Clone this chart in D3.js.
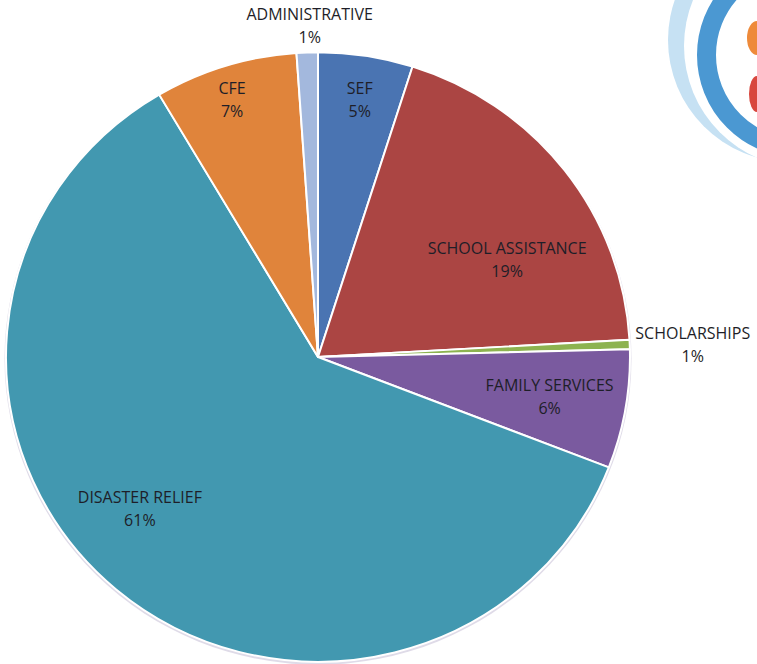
<!DOCTYPE html>
<html><head><meta charset="utf-8">
<script src="https://cdn.jsdelivr.net/npm/d3@7"></script>
<style>html,body{margin:0;padding:0;background:#fff;}svg{display:block;}</style>
</head><body>
<svg id="chart" width="757" height="664"></svg>
<script>
// ---- data ----
const categories = ["SEF", "SCHOOL ASSISTANCE", "SCHOLARSHIPS", "FAMILY SERVICES", "DISASTER RELIEF", "CFE", "ADMINISTRATIVE"];
const values = [4.9, 19.2, 0.5, 6.3, 60.6, 7.4, 1.1];
const colors = ["#4a74b2", "#ab4543", "#8db350", "#7a5a9f", "#4298b0", "#e0843b", "#a3b8dd"];

// ---- drawing ----
const svg = d3.select("#chart");
const cx = 318, cy = 357, R = 312, yScale = 0.977;

// decorative logo (top-right)
const logo = svg.append("g");
logo.append("circle").attr("cx", 790).attr("cy", 40).attr("r", 122).attr("fill", "#c6e1f3");
logo.append("circle").attr("cx", 806).attr("cy", 46).attr("r", 122).attr("fill", "#fff");
logo.append("circle").attr("cx", 800).attr("cy", 55).attr("r", 93.5)
  .attr("fill", "none").attr("stroke", "#4b98d2").attr("stroke-width", 19);
logo.append("ellipse").attr("cx", 757).attr("cy", 38).attr("rx", 10).attr("ry", 17).attr("fill", "#ee8a3a");
logo.append("ellipse").attr("cx", 757).attr("cy", 94).attr("rx", 8).attr("ry", 18).attr("fill", "#d8473e");

const g = svg.append("g").attr("transform", `translate(${cx},${cy}) scale(1,${yScale})`);

const pie = d3.pie().sort(null).value(d => d.value);
const data = categories.map((c, i) => ({name: c, value: values[i], color: colors[i]}));
const arcs = pie(data);
const arc = d3.arc().innerRadius(0).outerRadius(R);

// soft shadow
g.append("circle").attr("r", R + 1.5).attr("cy", 1.5).attr("fill", "#c9c3d8").attr("opacity", 0.6);

g.selectAll("path.slice").data(arcs).join("path")
  .attr("class", "slice")
  .attr("d", arc)
  .attr("fill", d => d.data.color)
  .attr("stroke", "#fff")
  .attr("stroke-width", 2)
  .attr("stroke-linejoin", "round");

// label placement (angle in degrees clockwise from 12 o'clock, radius in px)
const labelPlace = {
  "SEF": [9.0, 267],
  "SCHOOL ASSISTANCE": [62.1, 214],
  "SCHOLARSHIPS": [88.0, 375],
  "FAMILY SERVICES": [99.8, 235],
  "DISASTER RELIEF": [229.0, 236],
  "CFE": [342.0, 278],
  "ADMINISTRATIVE": [358.6, 340]
};
const total = d3.sum(values);
const labels = svg.append("g")
  .attr("font-family", "'Open Sans', 'Liberation Sans', sans-serif")
  .attr("font-size", 16)
  .attr("fill", "#1e1e28")
  .attr("text-anchor", "middle");
arcs.forEach(a => {
  const [deg, r] = labelPlace[a.data.name];
  const t = deg * Math.PI / 180;
  const x = cx + r * Math.sin(t);
  const y = cy - r * Math.cos(t) * yScale;
  const txt = labels.append("text").attr("x", x).attr("y", y - 5);
  txt.append("tspan").attr("x", x).attr("dy", 0).text(a.data.name);
  txt.append("tspan").attr("x", x).attr("dy", 23).text(Math.round(a.data.value / total * 100) + "%");
});
</script>
</body></html>
